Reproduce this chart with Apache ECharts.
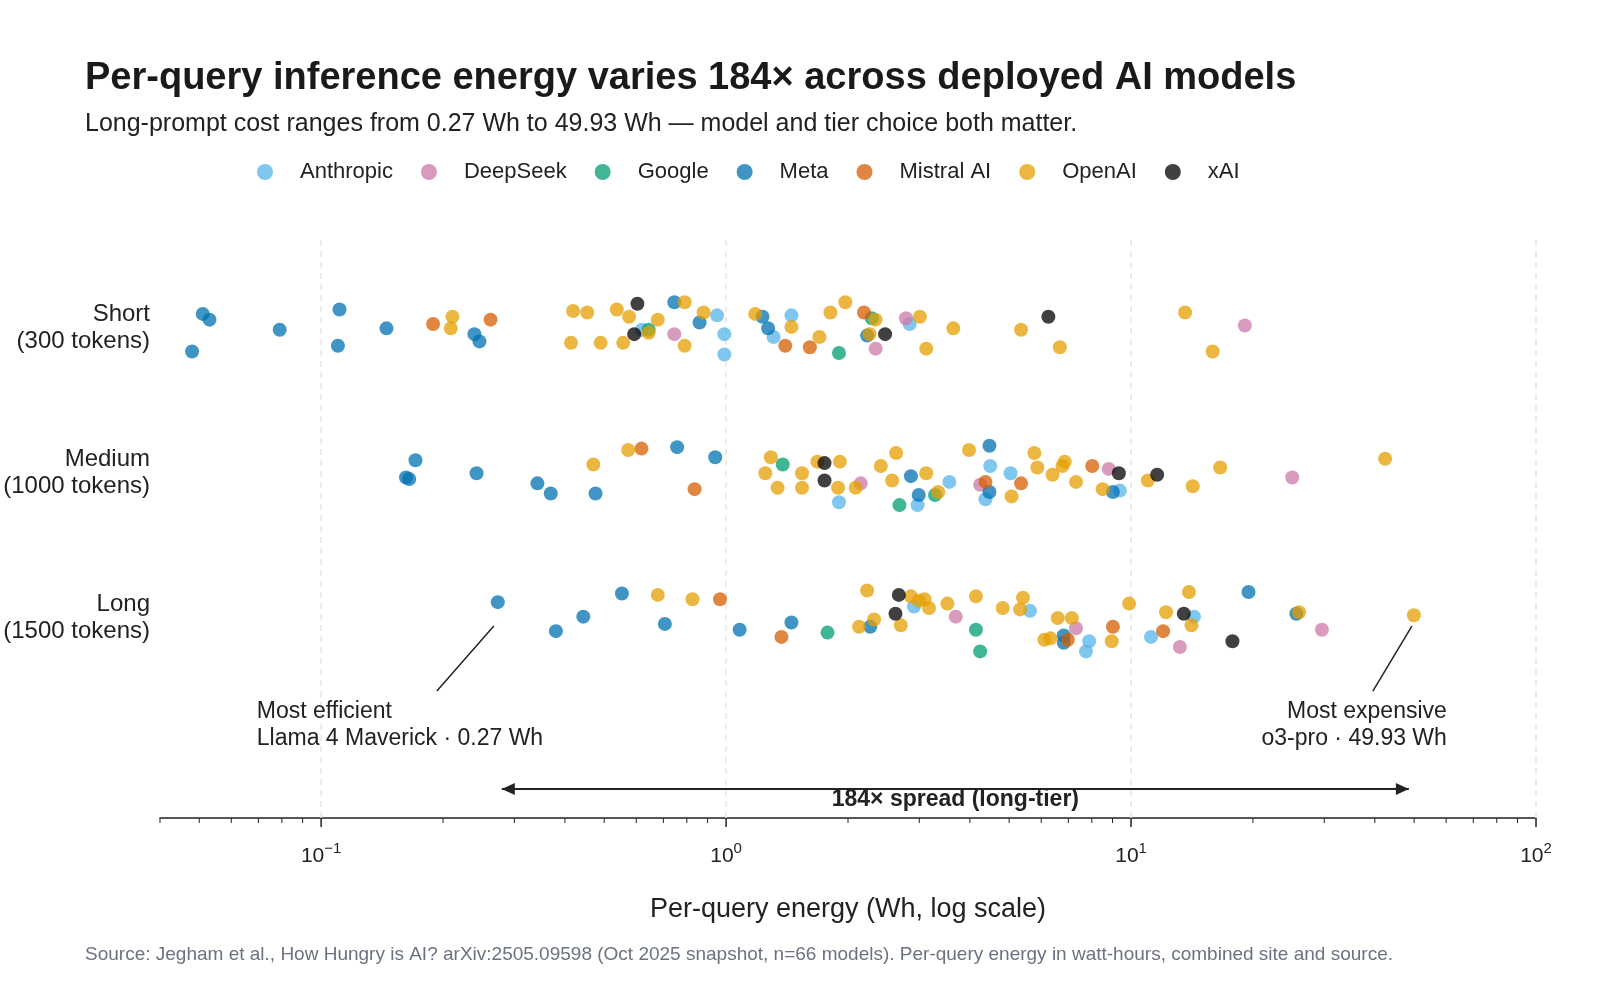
<!DOCTYPE html>
<html><head><meta charset="utf-8">
<script src="https://cdn.jsdelivr.net/npm/echarts@6/dist/echarts.min.js"></script>
<style>html,body{margin:0;padding:0;background:#fff}#c{width:1600px;height:1000px}</style>
</head><body><div id="c"></div>
<script>
// [energy Wh, tier index (0 Short,1 Medium,2 Long), vertical jitter]
const rows = ['Short\n(300 tokens)', 'Medium\n(1000 tokens)', 'Long\n(1500 tokens)'];
const companies = ['Anthropic','DeepSeek','Google','Meta','Mistral AI','OpenAI','xAI'];
const colors = ['#56B4E9','#CC79A7','#009E73','#0072B2','#D55E00','#E69F00','#000000'];

const anthropic = [
 [0.95,0,-0.09],[0.99,0,0.04],[0.99,0,0.18],[1.45,0,-0.09],[1.31,0,0.06],[2.84,0,-0.03],[0.62,0,0.01],
 [1.90,1,0.2],[2.97,1,0.22],[4.49,1,-0.05],[3.56,1,0.06],[5.04,1,0],[4.37,1,0.18],[9.38,1,0.12],
 [2.91,2,-0.08],[5.63,2,-0.05],[7.88,2,0.16],[7.74,2,0.23],[11.2,2,0.13],[14.3,2,-0.01]
];
const deepseek = [
 [2.78,0,-0.07],[2.34,0,0.14],[19.1,0,-0.02],[0.745,0,0.04],
 [2.15,1,0.07],[4.24,1,0.08],[8.81,1,-0.03],[25.0,1,0.03],
 [3.69,2,-0.01],[7.31,2,0.07],[13.2,2,0.2],[29.6,2,0.08]
];
const google = [
 [2.29,0,-0.07],[1.90,0,0.17],[0.644,0,0.01],
 [1.38,1,-0.06],[2.68,1,0.22],[3.28,1,0.15],
 [1.78,2,0.1],[4.14,2,0.08],[4.24,2,0.23]
];
const meta = [
 [0.051,0,-0.1],[0.053,0,-0.06],[0.048,0,0.16],[0.079,0,0.01],[0.111,0,-0.13],[0.110,0,0.12],[0.145,0,0.0],
 [0.239,0,0.04],[0.246,0,0.09],[0.745,0,-0.18],[0.86,0,-0.04],[1.23,0,-0.08],[1.27,0,0.0],[2.23,0,0.05],
 [0.171,1,-0.09],[0.162,1,0.03],[0.165,1,0.04],[0.242,1,0.0],[0.342,1,0.07],[0.369,1,0.14],[0.476,1,0.14],
 [0.757,1,-0.18],[0.94,1,-0.11],[2.86,1,0.02],[2.99,1,0.15],[4.47,1,-0.19],[4.47,1,0.13],[9.02,1,0.13],
 [0.273,2,-0.11],[0.38,2,0.09],[0.444,2,-0.01],[0.553,2,-0.17],[0.706,2,0.04],[1.08,2,0.08],[1.45,2,0.03],
 [2.27,2,0.06],[6.82,2,0.12],[6.82,2,0.17],[19.5,2,-0.18],[25.6,2,-0.03]
];
const mistral = [
 [0.189,0,-0.03],[0.262,0,-0.06],[1.40,0,0.12],[1.61,0,0.13],[2.19,0,-0.11],
 [0.618,1,-0.17],[0.836,1,0.11],[4.37,1,0.06],[5.35,1,0.07],[8.02,1,-0.05],
 [0.966,2,-0.13],[1.37,2,0.13],[6.98,2,0.15],[9.02,2,0.06],[12.0,2,0.09]
];
const openai = [
 [0.88,0,-0.11],[1.18,0,-0.1],[1.45,0,-0.01],[1.70,0,0.06],[1.81,0,-0.11],[1.97,0,-0.18],[2.34,0,-0.06],
 [2.26,0,0.04],[3.01,0,-0.08],[3.12,0,0.14],[3.64,0,0.0],[5.35,0,0.01],[6.67,0,0.13],[13.6,0,-0.11],[15.9,0,0.16],
 [0.211,0,-0.08],[0.209,0,0.0],[0.419,0,-0.12],[0.454,0,-0.11],[0.537,0,-0.13],[0.576,0,-0.08],[0.678,0,-0.06],
 [0.79,0,-0.18],[0.414,0,0.1],[0.49,0,0.1],[0.557,0,0.1],[0.644,0,0.03],[0.79,0,0.12],
 [0.47,1,-0.06],[0.573,1,-0.16],[1.29,1,-0.11],[1.25,1,0.0],[1.34,1,0.1],[1.54,1,0.0],[1.54,1,0.1],
 [1.68,1,-0.08],[1.91,1,-0.08],[1.89,1,0.1],[2.09,1,0.1],[2.41,1,-0.05],[2.63,1,-0.14],[2.57,1,0.05],[3.12,1,0.0],
 [3.34,1,0.13],[3.98,1,-0.16],[5.77,1,-0.14],[5.87,1,-0.04],[6.40,1,0.01],[6.86,1,-0.08],[6.77,1,-0.05],
 [7.31,1,0.06],[5.07,1,0.16],[8.51,1,0.11],[11.0,1,0.05],[14.2,1,0.09],[16.6,1,-0.04],[42.4,1,-0.1],
 [0.678,2,-0.16],[0.826,2,-0.13],[2.23,2,-0.19],[2.32,2,0.01],[2.13,2,0.06],[2.70,2,0.05],[2.86,2,-0.15],
 [3.09,2,-0.13],[3.17,2,-0.07],[2.99,2,-0.12],[3.52,2,-0.1],[4.14,2,-0.15],[4.82,2,-0.07],[5.41,2,-0.14],
 [5.32,2,-0.06],[6.59,2,0.0],[7.14,2,0.0],[6.11,2,0.15],[6.32,2,0.14],[8.96,2,0.16],[9.89,2,-0.1],
 [12.2,2,-0.04],[13.9,2,-0.18],[14.1,2,0.05],[26.0,2,-0.04],[49.93,2,-0.02]
];
const xai = [
 [0.604,0,-0.17],[0.593,0,0.04],[2.47,0,0.04],[6.25,0,-0.08],
 [1.75,1,-0.07],[1.75,1,0.05],[9.33,1,0.0],[11.6,1,0.01],
 [2.67,2,-0.16],[2.62,2,-0.03],[13.5,2,-0.03],[17.8,2,0.16]
];
const seriesData = [anthropic, deepseek, google, meta, mistral, openai, xai];

const decadeTicks = [0.1, 1, 10, 100];
const decadeLabels = ['−1','0','1','2'];
const minorTicks = [0.04,0.05,0.06,0.07,0.08,0.09,0.2,0.3,0.4,0.5,0.6,0.7,0.8,0.9,2,3,4,5,6,7,8,9,20,30,40,50,60,70,80,90];
const annot = {lowVal: 0.27, highVal: 49.93, spread: '184× spread (long-tier)',
  lowText: 'Most efficient\nLlama 4 Maverick · 0.27 Wh', highText: 'Most expensive\no3-pro · 49.93 Wh'};

const XMIN = 0.04, XMAX = 100, YMIN = -0.61, YMAX = 3.38;
const FF = 'Liberation Sans';

const series = companies.map((name, i) => ({
  name, type: 'scatter', symbolSize: 14, z: 5,
  itemStyle: {color: colors[i], opacity: 0.75},
  data: seriesData[i].map(d => [d[0], d[1] + d[2]])
}));

series.push({type:'custom', silent:true, z:1, data: decadeTicks.map(v=>[v]),
  renderItem: (p, api) => {
    const a = api.coord([api.value(0), YMIN]), b = api.coord([api.value(0), YMAX]);
    return {type:'line', shape:{x1:a[0],y1:a[1],x2:b[0],y2:b[1]}, style:{stroke:'#e5e5e5', lineWidth:1.5, lineDash:[6,5]}};
  }});
series.push({type:'custom', silent:true, z:3, data: decadeTicks.map((v,i)=>[v,i]),
  renderItem: (p, api) => {
    const a = api.coord([api.value(0), YMAX]);
    const i = api.value(1);
    return {type:'group', children:[
      {type:'line', shape:{x1:a[0],y1:a[1],x2:a[0],y2:a[1]+9}, style:{stroke:'#222', lineWidth:1.5}},
      {type:'text', x:a[0], y:a[1]+38, style:{text:'{b|10}{s|'+decadeLabels[i]+'}', align:'center', verticalAlign:'middle',
        rich:{b:{fontSize:21, fill:'#222', fontFamily:FF}, s:{fontSize:15, fill:'#222', verticalAlign:'top', padding:[0,0,14,0], fontFamily:FF}}}}
    ]};
  }});
series.push({type:'custom', silent:true, z:3, data: minorTicks.map(v=>[v]),
  renderItem: (p, api) => {
    const a = api.coord([api.value(0), YMAX]);
    return {type:'line', shape:{x1:a[0],y1:a[1],x2:a[0],y2:a[1]+5}, style:{stroke:'#222', lineWidth:1}};
  }});
series.push({type:'custom', silent:true, z:3, data: rows.map((r,i)=>[XMIN,i]),
  renderItem: (p, api) => {
    const a = api.coord([XMIN, api.value(1)]);
    return {type:'text', x:a[0]-10, y:a[1], style:{text:rows[p.dataIndex], align:'right', verticalAlign:'middle',
      fontSize:24, lineHeight:27, fill:'#222', fontFamily:FF}};
  }});
series.push({type:'custom', silent:true, z:4, data:[[annot.lowVal, 2]],
  renderItem: (p, api) => {
    const lo = api.coord([annot.lowVal, 2.0]);
    const hi = api.coord([annot.highVal, 2.0]);
    const ya = api.coord([annot.lowVal, 3.18])[1];
    const lx = lo[0] + 6, hx = hi[0] - 5;
    const mid = (lx + hx) / 2;
    const ah = 13, aw = 6;
    return {type:'group', children:[
      {type:'line', shape:{x1:lo[0]-2,y1:lo[1]+8,x2:lo[0]-59,y2:lo[1]+73}, style:{stroke:'#222', lineWidth:1.5}},
      {type:'text', x:lo[0]-239, y:lo[1]+80, style:{text:annot.lowText, align:'left', verticalAlign:'top', fontSize:23, lineHeight:27, fill:'#222', fontFamily:FF}},
      {type:'line', shape:{x1:hi[0]-2,y1:hi[1]+8,x2:hi[0]-41,y2:hi[1]+73}, style:{stroke:'#222', lineWidth:1.5}},
      {type:'text', x:hi[0]+33, y:hi[1]+80, style:{text:annot.highText, align:'right', verticalAlign:'top', fontSize:23, lineHeight:27, fill:'#222', fontFamily:FF}},
      {type:'line', shape:{x1:lx,y1:ya,x2:hx,y2:ya}, style:{stroke:'#222', lineWidth:2}},
      {type:'polygon', shape:{points:[[lx,ya],[lx+ah,ya-aw],[lx+ah,ya+aw]]}, style:{fill:'#222'}},
      {type:'polygon', shape:{points:[[hx,ya],[hx-ah,ya-aw],[hx-ah,ya+aw]]}, style:{fill:'#222'}},
      {type:'text', x:mid, y:ya+11, style:{text:annot.spread, align:'center', verticalAlign:'middle', fontSize:23, fontWeight:'bold', fill:'#222', fontFamily:FF}}
    ]};
  }});

const chart = echarts.init(document.getElementById('c'));
chart.setOption({
  animation:false,
  backgroundColor:'#fff',
  textStyle:{fontFamily:FF},
  title:[
    {text:'Per-query inference energy varies 184× across deployed AI models', left:80, top:55,
     textStyle:{fontSize:38, fontWeight:'bold', color:'#1a1a1a', fontFamily:FF}},
    {text:'Long-prompt cost ranges from 0.27 Wh to 49.93 Wh — model and tier choice both matter.', left:80, top:107,
     textStyle:{fontSize:25, fontWeight:'normal', color:'#222', fontFamily:FF}},
    {text:'Source: Jegham et al., How Hungry is AI? arXiv:2505.09598 (Oct 2025 snapshot, n=66 models). Per-query energy in watt-hours, combined site and source.',
     left:80, top:940, textStyle:{fontSize:19, fontWeight:'normal', color:'#6b7280', fontFamily:FF}}
  ],
  legend:{data:companies, top:156, left:252, icon:'circle', itemWidth:16, itemHeight:16, itemGap:28,
    textStyle:{fontSize:22, color:'#222', width:134, padding:[0,0,0,22], fontFamily:FF}},
  grid:{left:160, right:64, top:240, bottom:182},
  xAxis:{type:'log', logBase:10, min:XMIN, max:XMAX,
    name:'Per-query energy (Wh, log scale)', nameLocation:'middle', nameGap:78,
    nameTextStyle:{fontSize:27, color:'#222', fontFamily:FF},
    axisLine:{onZero:false, lineStyle:{color:'#222', width:1.5}}, axisTick:{show:false}, axisLabel:{show:false}, splitLine:{show:false}},
  yAxis:{type:'value', min:YMIN, max:YMAX, inverse:true, show:false},
  series
});
</script></body></html>
